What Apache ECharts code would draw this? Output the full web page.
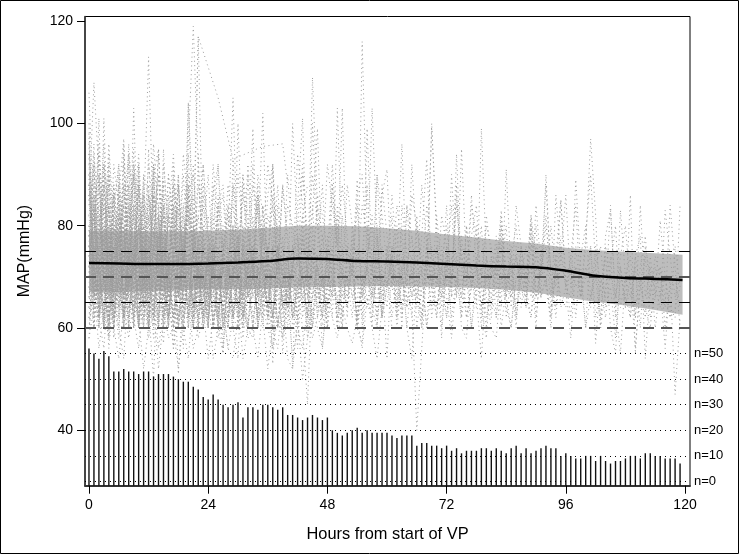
<!DOCTYPE html>
<html>
<head>
<meta charset="utf-8">
<style>
  html, body { margin: 0; padding: 0; background: #fff; }
  #chart { width: 740px; height: 555px; }
</style>
<script src="https://cdn.jsdelivr.net/npm/echarts@6/dist/echarts.min.js"></script>
</head>
<body>
<div id="chart"></div>
<script>
// patients still in the study per hour, 0..119
const counts = [52,50,48,51,49,43,43,44,43,43,42,43,43,41,42,42,42,41,40,39,39,37,36,33,32,34,32,30,29,30,
  31,25,29,29,28,30,30,29,28,29,26,26,25,24,25,26,25,24,25,20,19,18,19,20,21,19,20,19,19,19,
  19,18,17,18,18,18,14,15,15,14,14,13,14,12,13,11,12,12,12,13,13,12,13,12,11,13,14,11,13,11,
  12,13,14,13,13,10,11,10,9,9,10,10,8,10,8,7,8,8,9,10,10,9,11,11,10,10,9,9,9,7]

const bandHours = [0,6,12,18,24,30,36,42,48,54,60,66,72,78,84,90,96,102,108,114,119.5]
const bandUpper = [79,79,78.9,78.9,79,79.2,79.6,80,80,79.9,79.5,79,78.3,77.7,77,76.5,75.7,75.2,74.9,74.6,74.3]
const bandLower = [67,67,67.2,67.4,67.6,67.6,67.7,67.9,68,68.1,68.2,68.1,68,67.8,67.5,66.9,66,65.1,64.4,63.5,62.6]
const meanLine = [72.7,72.6,72.5,72.5,72.6,72.8,73.1,73.6,73.5,73.1,73,72.8,72.5,72.2,72,71.9,71.2,70.2,69.8,69.6,69.4]

const yTicks = [40,60,80,100,120]
const xTicks = [0,24,48,72,96,120]
const nLabels = [0,10,20,30,40,50]
const targetLevels = [60,65,70,75]

// individual trajectories, one value per hour from hour 0
const p01 = [84,108,90,70,66,78,64,72,92,70,80,66,74,88,69,62,76,84,67,72,104,82,70,63,75,68,80,66,72,64,100,74,68,92,66,78,60,74,88,70,64,76,68,82,70,109,84,68,72,66,80,62,74,70,84,66,72,103,78,64,70,82,66,74,68,92,76,62,72,99,80,66,74,68,88,62,70,78,84,68,60,74,70,80,66,72,64,76,70,82,66,72,88,70,64,76,68,74,84,66,78,90,72,62,76,70,66,74,80,68,62,72,78,66,74,70,64,84,72,60]
const p02 = [106,80,66,101,72,62,86,97,68,74,60,82,113,78,66,72,60,90,74,64,96,119,92,70,64,82,72,60,78,105,72,66,90,70,76,102,68,62,84,72,66,100,78,64,74,82,99,70,62,88,72,103,68,78,60,116,80,66,90,70,64,76,72,96,70,62,80,74,68,100,78,60,72,84,66,95,72,68,80,62,74,70,78,64,91,70,60,76,68,80,72,66,90,70,62,74,86,68,72,66,76,97,82,60,68,74,62,83,70,66,72,60,76,70,68,64,83,74,66,70]
const p03 = [92,74,101,68,62,86,70,76,66,103,72,64,88,70,60,95,74,66,80,62,104,78,117,72,66,74,62,80,70,88,68,60,76,99,70,64,74,92,68,78,62,72,84,101,68,60,76,88,70,66,103,74,62,80,70,66,99,72,62,86,91,68,74,60,84,70,64,78,93,70,62,76,68,90,72,66,80,70,64,99,74,62,72,83,68,66,76,64,72,70,80,66,70,62,86,74,68,66,89,72,60,76,57,70,66,84,64,55,70,74,62,84,66,72,60,68,56,70,47,62]
const p04 = [78,96,64,72,84,60,70,96,74,62,82,72,66,90,95,70,62,76,68,84,88,74,60,78,66,72,68,76,62,93,74,66,78,70,62,84,70,92,66,60,72,52,78,70,62,100,80,66,74,62,84,70,66,72,89,60,74,80,62,70,54,74,68,80,64,72,66,60,78,72,64,70,84,66,94,70,62,68,74,64,58,72,66,78,62,70,74,68,64,80,66,72,76,64,70,85,68,72,62,74,80,66,70,60,78,83,66,72,64,86,55,70,62,74,66,81,70,64,62,84]
const p05 = [70,86,62,74,92,66,58,80,68,72,88,64,70,76,62,82,68,56,72,90,74,66,62,78,70,64,84,56,72,68,80,62,74,66,86,70,64,60,76,55,68,72,62,80,70,66,74,62,78,68,72,60,76,66,70,62,80,72,60,76,68,72,62,84,74,66,70,60,76,68,72,58,76,66,70,62,80,68,72,60,74,66,62,72,80,64,74,68,66,78,62,72,82,66,74,85,70,62,76,66,72,64,76,68,62,72,80,64,70,62,74,78,54,68,72,66,70,62,76,68]
const p06 = [66,78,94,60,72,58,82,66,74,62,70,84,64,50,76,68,60,78,70,66,82,62,72,68,60,76,66,55,74,62,70,64,80,72,60,68,76,53,70,64,74,62,68,78,66,60,72,56,68,76,62,70,64,74,60,57,72,66,78,62,68,74,60,70,66,64,40,56,72,64,76,68,62,70,74,60,58,72,66,54,70,64,74,60,68,76,62,70,66,72,60,76,68,62,72,66,64,74,68,70,60,66,72,76,64,68,58,70,66,62,74,68,64,60,70,72,66,62,64,68]
const p07 = [88,68,76,96,62,72,84,66,78,60,92,70,64,86,72,66,82,74,51,68,94,72,62,80,66,74,60,72,64,70,78,62,68,74,84,66,62,72,80,68,60,74,66,70,62,76,72,68,60,74,82,66,70,62,76,68,64,72,80,62,68,74,64,72,60,54,70,62,76,68,62,72,66,58,70,76,62,68,72,80,66,60,58,70,66,74,62,72,68,62,76,66,70,60,74,64,68,58,72,66,70,76,62,68,74,60,55,72,64,70,56,68,74,62,66,72,60,68,70,64]
const p08 = [96,72,62,88,78,64,70,82,60,74,66,80,62,92,72,64,84,70,60,74,86,66,72,62,78,68,60,74,84,70,62,76,66,70,88,72,64,76,60,70,66,72,78,62,70,84,68,62,76,70,64,82,72,66,60,74,88,66,70,62,76,68,80,62,72,66,82,70,60,76,68,72,62,74,66,78,70,60,72,64,70,74,62,76,66,60,70,72,64,76,68]
const p09 = [80,62,72,90,68,60,76,84,66,74,92,62,70,58,82,68,74,60,88,70,64,76,60,72,82,66,62,74,68,80,64,70,60,76,66,72,62,80,68,58,70,64,76,66,72,60,68,78,64,70,66,60,76,70,62,68,74,64,60,72,68,76,62,70,64,74,66,72,60,68,76,64,72,62,70,66,74,60,68,72,62,66,76,70,64,60,70,74,66,62,72]
const p10 = [74,92,70,60,80,66,76,62,88,72,60,84,68,74,95,70,62,80,70,56,82,74,64,70,60,88,72,62,68,78,60,74,66,72,62,80,68,60,72,76,64,70,60,78,66,74,62,70,68,80,60,72,66,76,62,68,72,60,78,66,74,62,70,64,72,78,60,68,74,62,70,66,76,60]
const p11 = [90,64,82,72,58,86,70,62,76,95,66,60,78,72,84,62,68,92,74,60,70,80,66,62,74,68,60,55,70,76,64,60,72,82,66,62,74,68,60,76,70,62,66,74,68,80,62,70,64,72,60,76,68,74,60,66,72,64,70,62,76,68,64,72,60,70,74,66]
const p12 = [68,84,74,60,90,70,64,80,62,72,86,66,60,76,70,89,64,72,84,62,70,92,74,60,68,78,62,72,66,60,54,76,66,70,62,80,64,72,60,68,76,62,70,66,60,74,68,62,72,76,60,68,64,72,60,70,66,62,74,68,70,60]
const p13 = [100,70,62,80,66,88,74,60,70,84,64,76,60,92,68,57,72,84,66,74,62,80,70,64,60,76,68,72,62,70,78,64,60,72,66,74,62,76,60,70,64,68,56,72,62,78,66,70,60,68,74,62]
const p14 = [76,60,88,70,62,82,68,74,60,90,72,64,95,66,60,78,70,62,74,84,66,60,72,68,76,62,70,64,60,80,68,62,72,76,60,66,70,62,74,64,68,76,62,70,58,66,72,60,68,74,62]
const p15 = [86,72,64,78,60,70,90,62,76,68,80,64,72,60,74,88,62,70,66,82,72,60,94,68,62,76,70,64,60,72,78,62,68,74,60,70,64,56,72,66,74,62,68,60,45,70,64,72,60]
const p16 = [64,78,96,68,60,74,84,62,70,66,88,72,60,80,68,76,62,70,90,64,72,60,78,66,74,60,70,64,72,62,76,66,60,70,74,62,68,60,76,64,70,62,68,72,60,66,74]
const p17 = [98,66,74,60,84,70,62,92,68,76,60,72,82,64,70,60,86,74,62,68,78,64,72,60,70,66,76,60,68,62,72,58,66,74,60,70,62,68,76,64]
const p18 = [72,88,62,70,78,60,82,66,74,90,62,70,60,76,68,84,62,72,66,80,60,70,76,62,68,72,60,66,74,62,70,60,68,76,62]
const p19 = [82,70,60,92,66,76,62,72,86,60,68,78,64,72,60,82,70,62,74,66,60,78,68,62,72,60,70,64,76,62,60,72]
const p20 = [62,76,68,84,60,72,66,94,70,60,80,68,74,62,70,84,64,60,76,68,72,60,70,64,74,60,68,62]
const p21 = [94,60,72,64,80,68,60,76,88,64,70,60,82,72,62,78,66,74,60,68,76,62,70,60,66,72]
const p22 = [70,82,66,60,74,86,64,72,60,78,68,90,62,72,60,76,66,84,70,60,74,64,70,62]
const p23 = [58,74,62,84,70,60,78,66,72,84,60,68,76,62,82,70,60,72,66,76,62,70]
const p24 = [76,66,90,72,56,68,80,60,74,62,70,86,66,60,78,70,62,74,60,68,72]
// the one long slope after the hour 22 peak, with readings missing in between
const p25 = [null,null,null,null,null,null,null,null,null,null,null,null,null,null,null,null,null,null,null,null,null,72,117,null,null,null,105,null,null,93,null,null,null,null,null,95.5,null,null,null,96,88]
const p26 = [72,64,80,68,76,62,70,84,66,60,74,68,78,64,72,60,70,82,68,74,62,76,66,72,60,78,70,64,68,74,62,80,70,60,72,66,76,62,70,68,74,60,66,78,70,62,72,64,68,76]
const p27 = [64,84,70,62,76,66,72,60,80,68,74,62,70,86,64,72,60,76,66,70,84,62,74,68,60,72,76,64,70,62,78,66,72,60,68,74,64,70,76,62,68,72,60,74,66,70]
const p28 = [78,68,60,74,88,64,70,62,72,82,60,68,76,66,70,62,74,68,60,78,70,64,72,66,76,60,68,74,62,70,64,78,68,60,72,66,70,62,76,68,64,72]
const p29 = [60,72,66,78,62,70,82,64,74,68,60,76,70,62,80,68,72,60,66,74,62,78,68,70,64,72,60,76,66,62,70,74,60,68,72,64,76,62,70,66]
const p30 = [88,76,64,70,60,72,78,66,62,74,84,68,60,70,76,64,72,62,68,74,60,70,66,76,62,72,64,68,60,74,70,62,76,66,70,60,72,68]
const p31 = [68,60,76,70,84,62,68,74,60,72,66,80,62,70,76,60,68,72,62,78,66,74,60,70,64,72,62,76,68,60,70,66,74,62,68,70]
const p32 = [74,82,62,68,60,76,66,72,84,64,70,60,74,68,78,62,70,64,60,76,68,72,62,66,74,60,70,68,64,72,60,76,66,70]
const p33 = [62,70,78,60,72,66,88,62,68,76,64,72,60,70,82,66,74,62,68,60,72,64,78,66,62,70,74,60,68,72,64,70]
const p34 = [80,66,72,62,78,60,70,76,64,68,60,74,70,62,78,66,72,60,68,74,64,70,60,76,66,62,72,68,60,70]
const p35 = [66,74,60,70,64,80,68,60,72,76,62,70,66,84,60,72,68,62,74,64,70,60,68,76,62,70,64,72]
// the higher running patients that fill the 80 to 95 range
const p36 = [90,78,94,82,70,92,84,74,96,80,72,90,86,74,94,78,70,88,82,72,86,90,76,84,70,92,80,74,88,78,70,90,82,72,86,76,92,84,72,88,78,70,94,84,74,90,80,72,92,84,76,88,78,70,86,90,74,82,70,88,78,72,84,76,68,86,80,70,84,74,68,82,76,70,86,72,68,84,78,70,82,74,68,80,72,66,84,76,68,82,74,70,80,72,68,78]
const p37 = [76,94,82,72,90,78,86,70,94,84,74,88,76,96,82,70,90,80,72,94,84,74,88,78,70,86,92,76,82,70,90,78,72,88,82,70,86,92,76,70,84,80,72,90,78,70,86,82,74,92,76,70,88,80,72,84,78,70,90,82,72,86,74,68,84,78,70,88,76,68,82,72,80,68,84,74,70,86,72,68,80,76,70,82,68,74,80,70,76,66,84,72,68,80,70]
const p38 = [86,70,90,76,96,80,72,88,74,92,82,70,84,78,90,72,82,94,76,70,86,80,72,92,78,70,84,88,74,80,70,86,78,72,90,82,74,84,70,88,76,72,80,92,74,70,84,78,72,88,76]
const p39 = [94,82,74,88,72,84,92,76,82,70,90,74,86,78,72,92,80,74,88,70,82,86,74,78,90,72,84,76,70,88,80,74,92,78,70,84,72,86,78,70,90,76,72,82,88]
const p40 = [72,86,78,92,84,70,78,88,72,82,94,76,70,86,80,72,90,78,84,70,88,74,82,92,76,70,86,72,80,84,74,90,70,78,86,72,82,76,70,88]
const p41 = [82,92,72,80,70,88,76,84,94,72,78,86,70,92,84,74,80,88,72,76,90,82,70,86,74,78,92,70,84,76,72,88,80,70,84]
const p42 = [88,74,84,70,94,78,72,86,80,90,70,76,92,82,72,86,74,80,90,72,84,76,70,88,78,72,82,86,70]
const p43 = [70,90,80,86,74,82,92,70,84,76,88,72,80,90,74,84,70,86,78,72,88,76,82,70]
const p44 = [78,84,70,92,82,74,88,78,70,92,80,72,86,76,90,70,82,74,88,72]
// lower running patients that dip below the 60 line
const p45 = [60,68,56,64,58,66,60,54,70,62,56,66,58,64,52,62,68,56,64,60,54,66,58,62,68,54,60,64,56,62,66,54,60,58,64,62,52,60,56,66,54,52,62,50,58,64,60,56,66,62,58,64,60,57,62,56,66,60,54,64]
const p46 = [58,64,62,56,70,60,54,64,58,66,62,52,60,66,56,64,58,60,52,62,66,56,60,64,54,62,58,64,56,54,62,66,58,60,54,64,60,56,62,58,66,54,60,56,64,58,62,60]
const patients = [p01,p02,p03,p04,p05,p06,p07,p08,p09,p10,p11,p12,p13,p14,p15,p16,p17,p18,p19,p20,p21,p22,p23,p24,p25,p26,p27,p28,p29,p30,p31,p32,p33,p34,p35,p36,p37,p38,p39,p40,p41,p42,p43,p44,p45,p46]

const yMin = 29.17
const yMax = 120.9
// the count panel shares the plot: n=0 sits at 30 and 2 patients take one mmHg
const countToY = (n) => 30 + n / 2

const chart = echarts.init(document.getElementById('chart'), null, { renderer: 'canvas' })

const fontFamily = '"Liberation Sans", Arial, sans-serif'

const patientSeries = patients.map((values) => ({
  type: 'line',
  silent: true,
  showSymbol: false,
  connectNulls: true,
  z: 3,
  data: values.map((v, i) => [i, v]),
  lineStyle: { color: '#9c9c9c', width: 1, type: [1, 3.4] },
}))

function renderBand(params, api) {
  if (params.dataIndex !== 0) return null
  const upper = bandHours.map((h, i) => api.coord([h, bandUpper[i]]))
  const lower = bandHours.map((h, i) => api.coord([h, bandLower[i]])).reverse()
  return {
    type: 'polygon',
    shape: { points: upper.concat(lower) },
    style: { fill: '#bdbdbd' },
    silent: true,
  }
}

chart.setOption({
  animation: false,
  graphic: [{
    type: 'rect',
    shape: { x: 0.5, y: 0.5, width: 738, height: 553 },
    style: { fill: 'none', stroke: '#000', lineWidth: 1 },
    silent: true,
    z: -1,
  }],
  grid: {
    left: 85,
    right: 50,
    top: 16.5,
    bottom: 69.3,
    show: true,
    borderColor: '#000',
    borderWidth: 1,
  },
  xAxis: {
    type: 'value',
    min: -0.8,
    max: 121,
    name: 'Hours from start of VP',
    nameLocation: 'middle',
    nameGap: 41,
    nameTextStyle: { fontSize: 16.4, color: '#000', fontFamily },
    axisLine: { show: true, onZero: false, lineStyle: { color: '#333', width: 2 } },
    axisTick: { show: true, length: 8, customValues: xTicks, lineStyle: { color: '#000', width: 1 } },
    axisLabel: { customValues: xTicks, margin: 12, fontSize: 14, color: '#000', fontFamily },
    splitLine: { show: false },
  },
  yAxis: [{
    type: 'value',
    min: yMin,
    max: yMax,
    name: 'MAP(mmHg)',
    nameLocation: 'middle',
    nameGap: 52,
    nameTextStyle: { fontSize: 16, color: '#000', fontFamily },
    axisLine: { show: true, onZero: false, lineStyle: { color: '#333', width: 1.5 } },
    axisTick: { show: true, length: 8, customValues: yTicks, lineStyle: { color: '#000', width: 1 } },
    axisLabel: { customValues: yTicks, margin: 12, fontSize: 14, color: '#000', fontFamily },
    splitLine: { show: false },
  }, {
    type: 'value',
    position: 'right',
    min: (yMin - 30) * 2,
    max: (yMax - 30) * 2,
    axisLine: { show: false },
    axisTick: { show: false },
    axisLabel: {
      customValues: nLabels,
      margin: 4,
      fontSize: 13,
      color: '#000',
      fontFamily,
      formatter: (v) => 'n=' + v,
    },
    splitLine: { show: false },
  }],
  series: [
    {
      type: 'custom',
      silent: true,
      z: 1,
      renderItem: renderBand,
      data: bandHours.map((h, i) => [h, bandUpper[i]]),
      clip: true,
    },
    ...patientSeries,
    {
      type: 'bar',
      silent: true,
      barWidth: 1.4,
      z: 4,
      data: counts.map((n, i) => [i, countToY(n)]),
      itemStyle: { color: '#111' },
      markLine: {
        silent: true,
        symbol: 'none',
        label: { show: false },
        z: 5,
        data: nLabels.map((n) => ({
          yAxis: countToY(n),
          lineStyle: { color: '#000', width: 1, type: [1, 4] },
        })).concat(targetLevels.map((v) => ({
          yAxis: v,
          lineStyle: v % 10 === 0
            ? { color: '#555', width: 2, type: [11, 7] }
            : { color: '#000', width: 1, type: [11, 7] },
        }))),
      },
    },
    {
      type: 'line',
      silent: true,
      showSymbol: false,
      smooth: 0.3,
      z: 6,
      data: bandHours.map((h, i) => [h, meanLine[i]]),
      lineStyle: { color: '#000', width: 2.5 },
    },
  ],
})
</script>
</body>
</html>
